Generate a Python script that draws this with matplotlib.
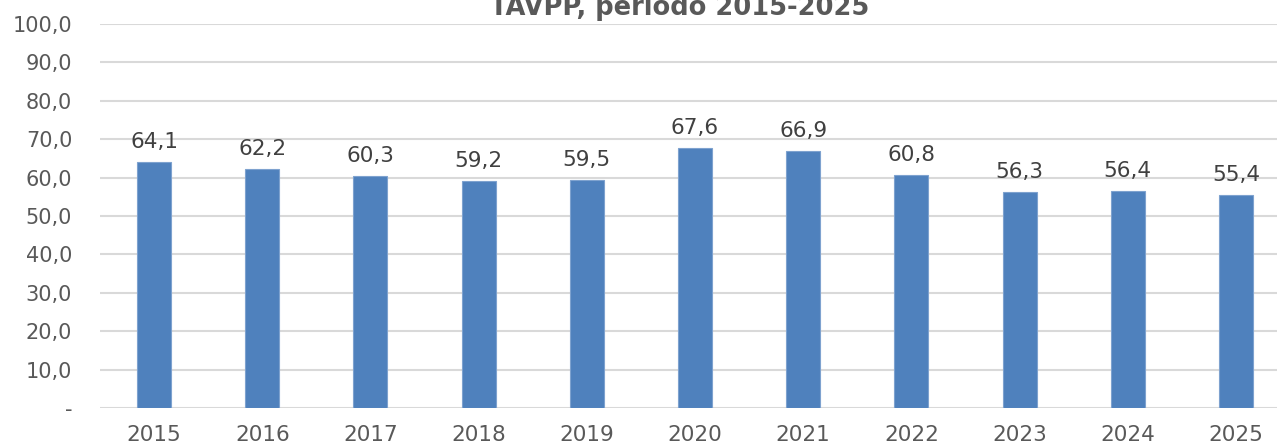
import matplotlib.pyplot as plt
import numpy as np

years = ['2015', '2016', '2017', '2018', '2019', '2020', '2021', '2022', '2023', '2024', '2025']
values = [64.1, 62.2, 60.3, 59.2, 59.5, 67.6, 66.9, 60.8, 56.3, 56.4, 55.4]
yticks = [0, 10, 20, 30, 40, 50, 60, 70, 80, 90, 100]
ytick_labels = ['-', '10,0', '20,0', '30,0', '40,0', '50,0', '60,0', '70,0', '80,0', '90,0', '100,0']

fig = plt.figure(figsize=(12.77, 4.45), dpi=100)
ax = fig.add_axes([100 / 1277, 1 - 408 / 445, 1190 / 1277, 384 / 445])

x = np.arange(len(years))
ax.bar(x, values, width=0.315, color='#4f81bd', edgecolor='#7ea2cf', linewidth=0.8, zorder=3)

for xi, v in zip(x, values):
    ax.text(xi, v + 2.6, f'{v:.1f}'.replace('.', ','), ha='center', va='bottom',
            fontsize=15.5, color='#404040')

ax.set_xlim(-0.5, len(years) - 0.5)
ax.set_ylim(0, 100)
ax.set_yticks(yticks)
ax.set_yticklabels(ytick_labels)
ax.set_xticks(x)
ax.set_xticklabels(years)
ax.tick_params(axis='both', length=0, colors='#595959')
ax.tick_params(axis='y', labelsize=15, pad=20)
ax.tick_params(axis='x', labelsize=15.5, pad=12)
ax.grid(axis='y', color='#d9d9d9', linewidth=1.5, zorder=0)
for s in ax.spines.values():
    s.set_visible(False)

fig.text(680 / 1277, 1 - 15 / 445, 'TAVPP, período 2015-2025', ha='center', va='baseline',
         fontsize=18.5, fontweight='bold', color='#595959')

fig.savefig('out.png', dpi=100)
